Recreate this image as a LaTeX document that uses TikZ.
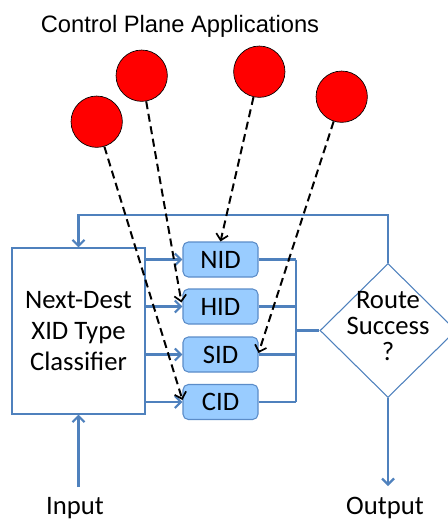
\documentclass[tikz,border=0pt]{standalone}
\usepackage{fontspec}
\setmainfont{Carlito}
\newfontfamily\titlefont{Liberation Sans}
\usetikzlibrary{arrows.meta,shapes.geometric,calc}
\definecolor{flowblue}{RGB}{79,129,189}
\definecolor{idfill}{RGB}{153,204,255}
\definecolor{idedge}{RGB}{91,140,200}
\tikzset{
  flow/.style={draw=flowblue, line width=2.2pt},
  flowarrow/.style={flow, -{Straight Barb[length=4.5pt,width=9pt,line width=1.6pt]}},
  ctrl/.style={draw=black, line width=1.5pt, dash pattern=on 6pt off 3.5pt,
    -{Straight Barb[length=4.5pt,width=9pt,line width=1.3pt]}},
  idbox/.style={draw=idedge, fill=idfill, line width=0.8pt, rounded corners=4pt,
    minimum width=56.25pt, minimum height=26.25pt, inner sep=0pt,
    font=\fontsize{20}{22}\selectfont},
  app/.style={circle, draw=black, line width=0.5pt, fill=red, minimum size=38.5pt, inner sep=0pt},
  lbl/.style={font=\fontsize{20}{22}\selectfont, inner sep=0pt}
}
\begin{document}
\begin{tikzpicture}[x=0.75pt, y=-0.75pt]
\useasboundingbox (0,0) rectangle (447,521);

% title
\node[font=\titlefont\fontsize{17.8}{20}\selectfont, inner sep=0pt] (title) at (180,26) {Control Plane Applications};

% control plane applications
\node[app] (c1) at (96.7,121.7) {};
\node[app] (c2) at (141.7,75.7) {};
\node[app] (c3) at (259.3,71.7) {};
\node[app] (c4) at (341.7,96.7) {};

% classifier
\node[draw=flowblue, line width=1pt, minimum width=99.75pt, minimum height=124.5pt,
  inner sep=0pt, align=center, font=\fontsize{20}{23.25}\selectfont] (cls) at (78.5,331)
  {Next-Dest\\XID Type\\Classifier};

% XID type handlers
\node[idbox] (nid) at (220.5,259.5) {NID};
\node[idbox] (hid) at (220.5,306.5) {HID};
\node[idbox] (sid) at (220.5,354.5) {SID};
\node[idbox] (cid) at (220.5,402) {CID};

% decision
\node[diamond, draw=flowblue, line width=0.8pt, minimum width=102pt, minimum height=100.5pt,
  inner sep=0pt] (route) at (388,330.5) {};
\node[align=center, font=\fontsize{20}{19.5}\selectfont, inner sep=0pt] (routetxt) at (388,326)
  {Route\\Success\\?};

% input / output
\node[lbl] (in) at (75,508) {Input};
\node[lbl] (out) at (385,508) {Output};
\coordinate (intail) at (78.5,487);
\coordinate (outtip) at (388,486);
\coordinate (loop) at (78.5,215);
\coordinate (bus) at (296,331);

% classifier to handlers
\draw[flowarrow] (cls.east |- nid) -- (nid.west);
\draw[flowarrow] (cls.east |- hid) -- (hid.west);
\draw[flowarrow] (cls.east |- sid) -- (sid.west);
\draw[flowarrow] (cls.east |- cid) -- (cid.west);

% handlers merge into the decision
\draw[flow] (nid.east) -- (nid.east -| bus);
\draw[flow] (hid.east) -- (hid.east -| bus);
\draw[flow] (sid.east) -- (sid.east -| bus);
\draw[flow] (cid.east) -- (cid.east -| bus);
\draw[flow] (nid.east -| bus) -- (cid.east -| bus);
\draw[flow] (bus |- route.west) -- (route.west);

% feedback loop and output
\draw[flowarrow] (route.north) -- (route.north |- loop) -- (loop) -- (cls.north);
\draw[flowarrow] (route.south) -- (outtip);
\draw[flowarrow] (intail) -- (cls.south);

% control plane links
\draw[ctrl] (c1) -- ($(cid.west)+(0,-2)$);
\draw[ctrl] (c2) -- ($(hid.west)+(-1,-4)$);
\draw[ctrl] (c3) -- (nid.north);
\draw[ctrl] (c4) -- ($(sid.east)+(0,-1.5)$);
\end{tikzpicture}
\end{document}
